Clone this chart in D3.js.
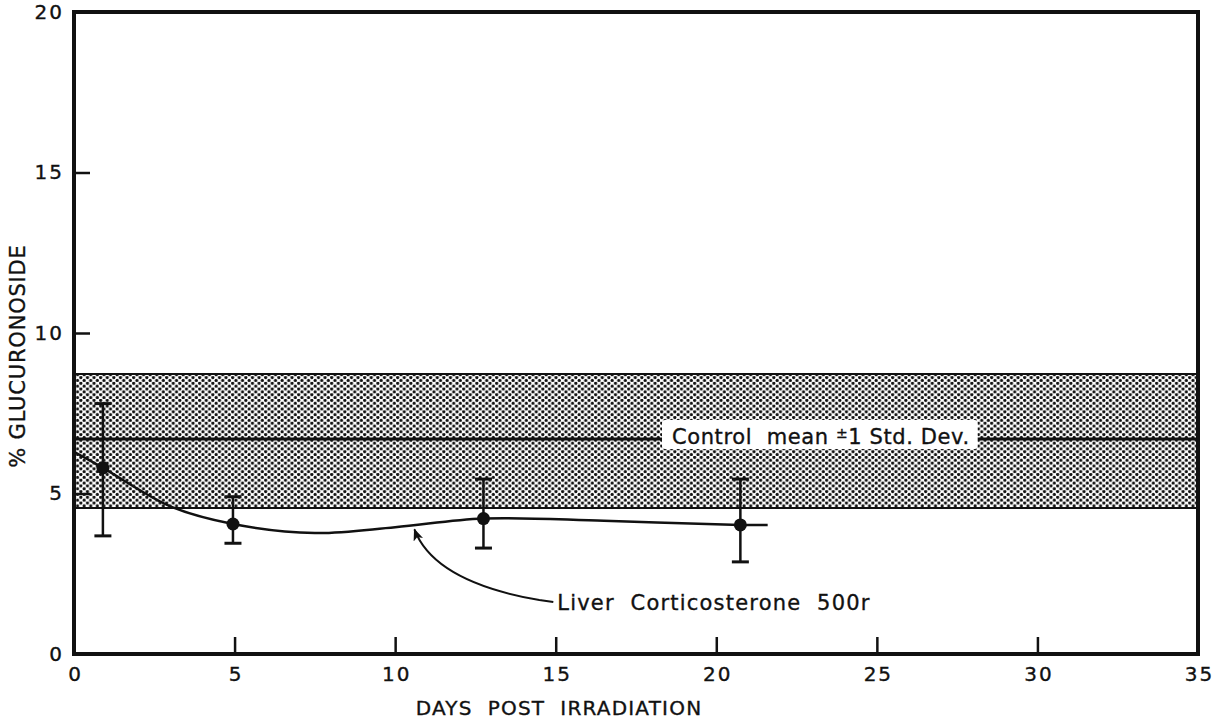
<!DOCTYPE html>
<html>
<head>
<meta charset="utf-8">
<script src="https://cdn.jsdelivr.net/npm/d3@7"></script>
<style>
  body { margin: 0; background: #fff; }
  svg { display: block; }
  text { font-family: "DejaVu Sans", "Liberation Sans", sans-serif; fill: #111; stroke: #111; stroke-width: 0.35; }
</style>
</head>
<body>
<svg id="chart" width="1225" height="721"></svg>
<script>
// ---- data ----
const days = [0.9, 4.95, 12.75, 20.75];
const meanValues = [5.8, 4.05, 4.22, 4.02];
const errUpper = [7.8, 4.9, 5.45, 5.45];
const errLower = [3.68, 3.45, 3.3, 2.87];
// hand-drawn smooth curve through the means
const curveX = [0, 0.9, 3, 4.95, 7.5, 10, 12.75, 16.5, 20.75, 21.6];
const curveY = [6.3, 5.8, 4.6, 4.05, 3.77, 3.95, 4.22, 4.15, 4.02, 4.02];
const controlMean = 6.7;
const controlUpper = 8.72;
const controlLower = 4.55;
const xTicks = [0, 5, 10, 15, 20, 25, 30, 35];
const yTicks = [0, 5, 10, 15, 20];
const xTitle = "DAYS  POST  IRRADIATION";
const yTitle = "% GLUCURONOSIDE";
const bandLabel = ["Control  mean ", "±", "1 Std. Dev."];
const seriesLabel = "Liver  Corticosterone  500r";
const seriesLabelAt = [15.05, 1.4];
const arrowTipAt = [10.6, 3.88];

// ---- layout ----
const svg = d3.select("#chart");
const x = d3.scaleLinear().domain([0, 35]).range([74, 1198]);
const y = d3.scaleLinear().domain([0, 20]).range([654, 12]);

const defs = svg.append("defs");
const pat = defs.append("pattern").attr("id", "stipple")
  .attr("patternUnits", "userSpaceOnUse").attr("width", 6.6).attr("height", 5.7);
pat.append("circle").attr("cx", 1.65).attr("cy", 1.4).attr("r", 1.6).attr("fill", "#111");
pat.append("circle").attr("cx", 4.95).attr("cy", 4.25).attr("r", 1.6).attr("fill", "#111");

defs.append("marker").attr("id", "arrow").attr("viewBox", "0 0 12 10")
  .attr("refX", 11).attr("refY", 5).attr("markerWidth", 12).attr("markerHeight", 10)
  .attr("markerUnits", "userSpaceOnUse").attr("orient", "auto")
  .append("path").attr("d", "M0,0 L12,5 L0,10 L3,5 Z").attr("fill", "#111");

// band
svg.append("rect")
  .attr("x", x(0)).attr("width", x(35) - x(0))
  .attr("y", y(controlUpper)).attr("height", y(controlLower) - y(controlUpper))
  .attr("fill", "url(#stipple)");
[controlUpper, controlLower].forEach(v => {
  svg.append("line").attr("x1", x(0)).attr("x2", x(35)).attr("y1", y(v)).attr("y2", y(v))
    .attr("stroke", "#111").attr("stroke-width", 2);
});
svg.append("line").attr("x1", x(0)).attr("x2", x(35))
  .attr("y1", y(controlMean)).attr("y2", y(controlMean))
  .attr("stroke", "#111").attr("stroke-width", 3);

// band label with white box
const lab = svg.append("g");
const labText = lab.append("text").attr("x", 672).attr("y", y(controlMean) + 5)
  .attr("font-size", 21).attr("letter-spacing", 0.6).attr("xml:space", "preserve");
labText.append("tspan").text(bandLabel[0]);
labText.append("tspan").attr("font-size", 14).attr("dy", -6).text(bandLabel[1]);
labText.append("tspan").attr("dy", 6).text(bandLabel[2]);
const bb = labText.node().getBBox();
lab.insert("rect", "text").attr("x", bb.x - 10).attr("y", y(controlMean) - 19)
  .attr("width", bb.width + 18).attr("height", 29).attr("rx", 3).attr("fill", "#fff");

// curve
const line = d3.line().x(d => x(d[0])).y(d => y(d[1])).curve(d3.curveCatmullRom.alpha(0.5));
svg.append("path").datum(curveX.map((d, i) => [d, curveY[i]]))
  .attr("d", line).attr("fill", "none").attr("stroke", "#111").attr("stroke-width", 2.5);

// error bars and points
const g = svg.append("g");
days.forEach((d, i) => {
  g.append("line").attr("x1", x(d)).attr("x2", x(d)).attr("y1", y(errUpper[i])).attr("y2", y(errLower[i]))
    .attr("stroke", "#111").attr("stroke-width", 2.5);
  [errUpper[i], errLower[i]].forEach(v => {
    g.append("line").attr("x1", x(d) - 8.5).attr("x2", x(d) + 8.5).attr("y1", y(v)).attr("y2", y(v))
      .attr("stroke", "#111").attr("stroke-width", 3);
  });
  g.append("circle").attr("cx", x(d)).attr("cy", y(meanValues[i])).attr("r", 6.5).attr("fill", "#111");
});

// arrow annotation
const sx = x(seriesLabelAt[0]) - 4, sy = y(seriesLabelAt[1]) - 7;
const tx = x(arrowTipAt[0]), ty = y(arrowTipAt[1]);
svg.append("path")
  .attr("d", `M${sx},${sy} L${sx - 14},${sy - 2} Q${tx + 20},${sy - 20} ${tx},${ty}`)
  .attr("fill", "none").attr("stroke", "#111").attr("stroke-width", 2)
  .attr("marker-end", "url(#arrow)");
svg.append("text").attr("x", x(seriesLabelAt[0])).attr("y", y(seriesLabelAt[1]) + 1)
  .attr("font-size", 21).attr("letter-spacing", 1.2).attr("xml:space", "preserve").text(seriesLabel);

// axes
const xAxis = svg.append("g").attr("transform", `translate(0,${y(0)})`)
  .call(d3.axisBottom(x).tickValues(xTicks).tickSize(-17).tickPadding(13).tickFormat(d3.format("d")));
const yAxis = svg.append("g").attr("transform", `translate(${x(0)},0)`)
  .call(d3.axisLeft(y).tickValues(yTicks).tickSize(-16).tickPadding(10).tickFormat(d3.format("d")));
[xAxis, yAxis].forEach(a => {
  a.attr("font-size", null).attr("font-family", null);
  a.select(".domain").remove();
  a.selectAll(".tick line").attr("stroke", "#111").attr("stroke-width", 2.5);
  a.selectAll(".tick text").attr("font-size", 20).attr("letter-spacing", 2).attr("fill", "#111");
});
xAxis.selectAll(".tick text").attr("dx", 1);
xAxis.selectAll(".tick").filter(d => d === 0 || d === 35).select("line").remove();
yAxis.selectAll(".tick").filter(d => d === 0 || d === 20).select("line").remove();

// frame
svg.append("rect").attr("x", x(0)).attr("y", y(20)).attr("width", x(35) - x(0)).attr("height", y(0) - y(20))
  .attr("fill", "none").attr("stroke", "#111").attr("stroke-width", 4);

// titles
svg.append("text").attr("x", 559).attr("y", 715).attr("text-anchor", "middle")
  .attr("font-size", 20).attr("letter-spacing", 1.2).attr("xml:space", "preserve").text(xTitle);
svg.append("text").attr("transform", `translate(25,356) rotate(-90)`).attr("text-anchor", "middle")
  .attr("font-size", 21).attr("letter-spacing", 0.8).text(yTitle);
</script>
</body>
</html>
